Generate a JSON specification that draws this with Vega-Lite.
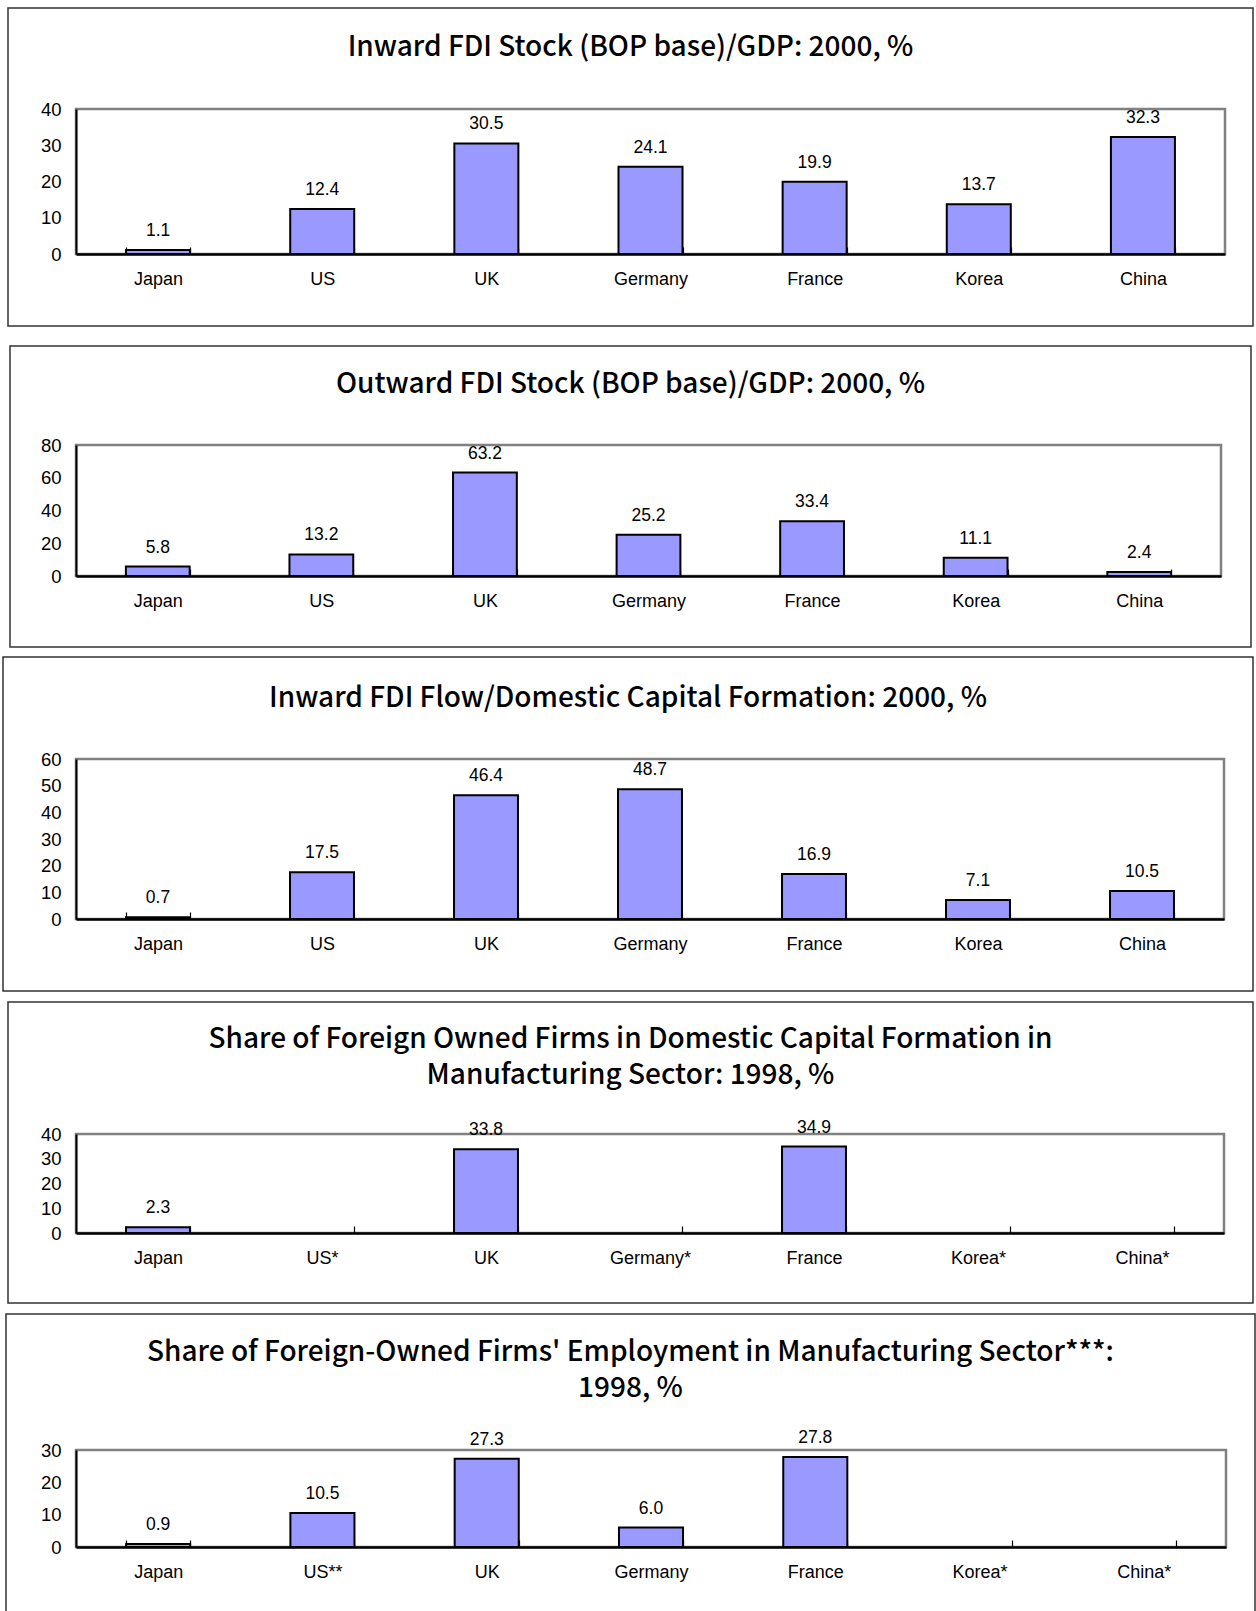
{
  "$schema": "https://vega.github.io/schema/vega-lite/v6.json",
  "padding": {"left": 1, "top": 6, "right": 0, "bottom": 0},
  "datasets": {
    "inward_stock": [
      {"country": "Japan", "value": 1.1},
      {"country": "US", "value": 12.4},
      {"country": "UK", "value": 30.5},
      {"country": "Germany", "value": 24.1},
      {"country": "France", "value": 19.9},
      {"country": "Korea", "value": 13.7},
      {"country": "China", "value": 32.3}
    ],
    "outward_stock": [
      {"country": "Japan", "value": 5.8},
      {"country": "US", "value": 13.2},
      {"country": "UK", "value": 63.2},
      {"country": "Germany", "value": 25.2},
      {"country": "France", "value": 33.4},
      {"country": "Korea", "value": 11.1},
      {"country": "China", "value": 2.4}
    ],
    "inward_flow": [
      {"country": "Japan", "value": 0.7},
      {"country": "US", "value": 17.5},
      {"country": "UK", "value": 46.4},
      {"country": "Germany", "value": 48.7},
      {"country": "France", "value": 16.9},
      {"country": "Korea", "value": 7.1},
      {"country": "China", "value": 10.5}
    ],
    "capital_share": [
      {"country": "Japan", "value": 2.3},
      {"country": "US*", "value": null},
      {"country": "UK", "value": 33.8},
      {"country": "Germany*", "value": null},
      {"country": "France", "value": 34.9},
      {"country": "Korea*", "value": null},
      {"country": "China*", "value": null}
    ],
    "employment_share": [
      {"country": "Japan", "value": 0.9},
      {"country": "US**", "value": 10.5},
      {"country": "UK", "value": 27.3},
      {"country": "Germany", "value": 6.0},
      {"country": "France", "value": 27.8},
      {"country": "Korea*", "value": null},
      {"country": "China*", "value": null}
    ]
  },
  "spacing": 15,
  "vconcat": [
    {
      "width": 1149, "height": 145,
      "title": {"text": "Inward FDI Stock (BOP base)/GDP: 2000, %", "offset": -54.5},
      "layer": [
        {
          "data": {"name": "inward_stock"},
          "transform": [{"aggregate": [{"op": "count", "as": "n"}]}],
          "mark": {"type": "rect", "fillOpacity": 0, "stroke": "#333333", "strokeWidth": 1.5},
          "encoding": {
            "x": {"datum": 0, "type": "quantitative", "scale": {"domain": [0.054618, 0.97751], "nice": false, "zero": false}, "axis": null},
            "x2": {"datum": 1},
            "y": {"datum": 0, "type": "quantitative", "scale": {"domain": [0.226415, 0.68239], "nice": false, "zero": false}, "axis": null},
            "y2": {"datum": 1}
          }
        },
        {
          "data": {"name": "inward_stock"},
          "encoding": {
            "x": {"field": "country", "type": "nominal", "title": null, "scale": {"domain": ["Japan", "US", "UK", "Germany", "France", "Korea", "China"], "paddingInner": 0.61, "paddingOuter": 0.305}},
            "y": {"field": "value", "type": "quantitative", "title": null, "scale": {"domain": [0, 40], "nice": false}, "axis": {"values": [0, 10, 20, 30, 40], "gridColor": {"condition": {"test": "datum.value >= 40", "value": "#808080"}, "value": "#000000"}}}
          },
          "layer": [
            {"mark": {"type": "bar", "fill": "#9999FF", "stroke": "#000000", "strokeWidth": 2}},
            {"transform": [{"filter": "isValid(datum.value)"}], "mark": {"type": "text", "baseline": "alphabetic", "dy": -14, "fontSize": 17.5, "font": "Liberation Sans", "color": "#000000"}, "encoding": {"text": {"field": "value", "type": "quantitative", "format": ".1f"}}}
          ]
        }
      ],
      "resolve": {"scale": {"x": "independent", "y": "independent"}, "axis": {"x": "independent", "y": "independent"}}
    },
    {
      "spacing": 6,
      "vconcat": [
        {
          "width": 1145, "height": 131,
          "title": {"text": "Outward FDI Stock (BOP base)/GDP: 2000, %", "offset": -53.5},
          "layer": [
            {
              "data": {"name": "outward_stock"},
              "transform": [{"aggregate": [{"op": "count", "as": "n"}]}],
              "mark": {"type": "rect", "fillOpacity": 0, "stroke": "#333333", "strokeWidth": 1.5},
              "encoding": {
                "x": {"datum": 0, "type": "quantitative", "scale": {"domain": [0.053183, 0.975826], "nice": false, "zero": false}, "axis": null},
                "x2": {"datum": 1},
                "y": {"datum": 0, "type": "quantitative", "scale": {"domain": [0.23588, 0.671096], "nice": false, "zero": false}, "axis": null},
                "y2": {"datum": 1}
              }
            },
            {
              "data": {"name": "outward_stock"},
              "encoding": {
                "x": {"field": "country", "type": "nominal", "title": null, "scale": {"domain": ["Japan", "US", "UK", "Germany", "France", "Korea", "China"], "paddingInner": 0.61, "paddingOuter": 0.305}},
                "y": {"field": "value", "type": "quantitative", "title": null, "scale": {"domain": [0, 80], "nice": false}, "axis": {"values": [0, 20, 40, 60, 80], "gridColor": {"condition": {"test": "datum.value >= 80", "value": "#808080"}, "value": "#000000"}}}
              },
              "layer": [
                {"mark": {"type": "bar", "fill": "#9999FF", "stroke": "#000000", "strokeWidth": 2}},
                {"transform": [{"filter": "isValid(datum.value)"}], "mark": {"type": "text", "baseline": "alphabetic", "dy": -14, "fontSize": 17.5, "font": "Liberation Sans", "color": "#000000"}, "encoding": {"text": {"field": "value", "type": "quantitative", "format": ".1f"}}}
              ]
            }
          ],
          "resolve": {"scale": {"x": "independent", "y": "independent"}, "axis": {"x": "independent", "y": "independent"}}
        },
        {
          "width": 1148, "height": 160,
          "title": {"text": "Inward FDI Flow/Domestic Capital Formation: 2000, %", "offset": -56.5},
          "layer": [
            {
              "data": {"name": "inward_flow"},
              "transform": [{"aggregate": [{"op": "count", "as": "n"}]}],
              "mark": {"type": "rect", "fillOpacity": 0, "stroke": "#333333", "strokeWidth": 1.5},
              "encoding": {
                "x": {"datum": 0, "type": "quantitative", "scale": {"domain": [0.0584, 0.9768], "nice": false, "zero": false}, "axis": null},
                "x2": {"datum": 1},
                "y": {"datum": 0, "type": "quantitative", "scale": {"domain": [0.215569, 0.694611], "nice": false, "zero": false}, "axis": null},
                "y2": {"datum": 1}
              }
            },
            {
              "data": {"name": "inward_flow"},
              "encoding": {
                "x": {"field": "country", "type": "nominal", "title": null, "scale": {"domain": ["Japan", "US", "UK", "Germany", "France", "Korea", "China"], "paddingInner": 0.61, "paddingOuter": 0.305}},
                "y": {"field": "value", "type": "quantitative", "title": null, "scale": {"domain": [0, 60], "nice": false}, "axis": {"values": [0, 10, 20, 30, 40, 50, 60], "gridColor": {"condition": {"test": "datum.value >= 60", "value": "#808080"}, "value": "#000000"}}}
              },
              "layer": [
                {"mark": {"type": "bar", "fill": "#9999FF", "stroke": "#000000", "strokeWidth": 2}},
                {"transform": [{"filter": "isValid(datum.value)"}], "mark": {"type": "text", "baseline": "alphabetic", "dy": -14, "fontSize": 17.5, "font": "Liberation Sans", "color": "#000000"}, "encoding": {"text": {"field": "value", "type": "quantitative", "format": ".1f"}}}
              ]
            }
          ],
          "resolve": {"scale": {"x": "independent", "y": "independent"}, "axis": {"x": "independent", "y": "independent"}}
        },
        {
          "width": 1148, "height": 99,
          "title": {"text": ["Share of Foreign Owned Firms in Domestic Capital Formation in", "Manufacturing Sector: 1998, %"], "offset": -88.5},
          "layer": [
            {
              "data": {"name": "capital_share"},
              "transform": [{"aggregate": [{"op": "count", "as": "n"}]}],
              "mark": {"type": "rect", "fillOpacity": 0, "stroke": "#333333", "strokeWidth": 1.5},
              "encoding": {
                "x": {"datum": 0, "type": "quantitative", "scale": {"domain": [0.054618, 0.976707], "nice": false, "zero": false}, "axis": null},
                "x2": {"datum": 1},
                "y": {"datum": 0, "type": "quantitative", "scale": {"domain": [0.232558, 0.561462], "nice": false, "zero": false}, "axis": null},
                "y2": {"datum": 1}
              }
            },
            {
              "data": {"name": "capital_share"},
              "encoding": {
                "x": {"field": "country", "type": "nominal", "title": null, "scale": {"domain": ["Japan", "US*", "UK", "Germany*", "France", "Korea*", "China*"], "paddingInner": 0.61, "paddingOuter": 0.305}},
                "y": {"field": "value", "type": "quantitative", "title": null, "scale": {"domain": [0, 40], "nice": false}, "axis": {"values": [0, 10, 20, 30, 40], "gridColor": {"condition": {"test": "datum.value >= 40", "value": "#808080"}, "value": "#000000"}}}
              },
              "layer": [
                {"mark": {"type": "bar", "fill": "#9999FF", "stroke": "#000000", "strokeWidth": 2}},
                {"transform": [{"filter": "isValid(datum.value)"}], "mark": {"type": "text", "baseline": "alphabetic", "dy": -14, "fontSize": 17.5, "font": "Liberation Sans", "color": "#000000"}, "encoding": {"text": {"field": "value", "type": "quantitative", "format": ".1f"}}}
              ]
            }
          ],
          "resolve": {"scale": {"x": "independent", "y": "independent"}, "axis": {"x": "independent", "y": "independent"}}
        },
        {
          "width": 1150, "height": 97,
          "title": {"text": ["Share of Foreign-Owned Firms' Employment in Manufacturing Sector***:", "1998, %"], "offset": -89.5},
          "layer": [
            {
              "data": {"name": "employment_share"},
              "transform": [{"aggregate": [{"op": "count", "as": "n"}]}],
              "mark": {"type": "rect", "fillOpacity": 0, "stroke": "#333333", "strokeWidth": 1.5},
              "encoding": {
                "x": {"datum": 0, "type": "quantitative", "scale": {"domain": [0.056045, 0.976781], "nice": false, "zero": false}, "axis": null},
                "x2": {"datum": 1},
                "y": {"datum": 0, "type": "quantitative", "scale": {"domain": [0.236066, 0.554098], "nice": false, "zero": false}, "axis": null},
                "y2": {"datum": 1}
              }
            },
            {
              "data": {"name": "employment_share"},
              "encoding": {
                "x": {"field": "country", "type": "nominal", "title": null, "scale": {"domain": ["Japan", "US**", "UK", "Germany", "France", "Korea*", "China*"], "paddingInner": 0.61, "paddingOuter": 0.305}},
                "y": {"field": "value", "type": "quantitative", "title": null, "scale": {"domain": [0, 30], "nice": false}, "axis": {"values": [0, 10, 20, 30], "gridColor": {"condition": {"test": "datum.value >= 30", "value": "#808080"}, "value": "#000000"}}}
              },
              "layer": [
                {"mark": {"type": "bar", "fill": "#9999FF", "stroke": "#000000", "strokeWidth": 2}},
                {"transform": [{"filter": "isValid(datum.value)"}], "mark": {"type": "text", "baseline": "alphabetic", "dy": -14, "fontSize": 17.5, "font": "Liberation Sans", "color": "#000000"}, "encoding": {"text": {"field": "value", "type": "quantitative", "format": ".1f"}}}
              ]
            }
          ],
          "resolve": {"scale": {"x": "independent", "y": "independent"}, "axis": {"x": "independent", "y": "independent"}}
        }
      ]
    }
  ],
  "config": {
    "background": "#ffffff",
    "font": "Liberation Sans",
    "view": {"stroke": "#808080", "strokeWidth": 2.5},
    "title": {"font": "Noto Sans CJK KR", "fontSize": 28, "fontWeight": 500, "color": "#000000", "anchor": "middle", "frame": "bounds", "lineHeight": 36},
    "axisX": {"domainColor": "#000000", "domainWidth": 2.5, "ticks": true, "tickBand": "extent", "tickSize": -7, "tickColor": "#000000", "tickWidth": 1.2, "labelFont": "Liberation Sans", "labelFontSize": 18, "labelColor": "#000000", "labelAngle": 0, "labelPadding": 23, "grid": false},
    "axisY": {"domainColor": "#000000", "domainWidth": 2, "ticks": false, "labelFont": "Liberation Sans", "labelFontSize": 18.5, "labelColor": "#000000", "labelPadding": 15, "grid": true, "gridWidth": 1}
  }
}
